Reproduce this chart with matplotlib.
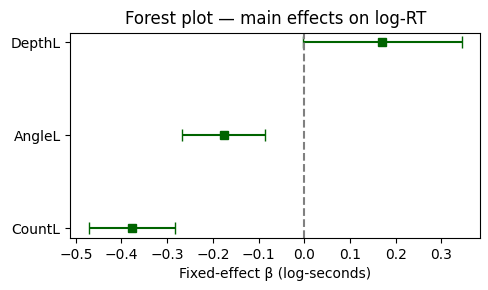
import matplotlib
matplotlib.use("Agg")
import matplotlib.pyplot as plt
import numpy as np

terms = ["CountL", "AngleL", "DepthL"]
beta = [-0.377, -0.176, 0.170]
ci_low = [-0.471, -0.267, -0.002]
ci_high = [-0.284, -0.085, 0.344]

fig, ax = plt.subplots(figsize=(4.89, 2.9), dpi=100)
y = np.arange(len(terms))
b = np.array(beta)
err = [b - np.array(ci_low), np.array(ci_high) - b]
ax.errorbar(b, y, xerr=err, fmt="s", color="darkgreen", ecolor="darkgreen",
            capsize=4, markersize=6)
ax.axvline(0, color="gray", linestyle="--")
ax.set_yticks(y)
ax.set_yticklabels(terms)
ax.set_xlabel("Fixed-effect β (log-seconds)")
ax.set_title("Forest plot — main effects on log-RT")
fig.subplots_adjust(left=0.144, right=0.982, top=0.887, bottom=0.180)
fig.savefig("out.png")
